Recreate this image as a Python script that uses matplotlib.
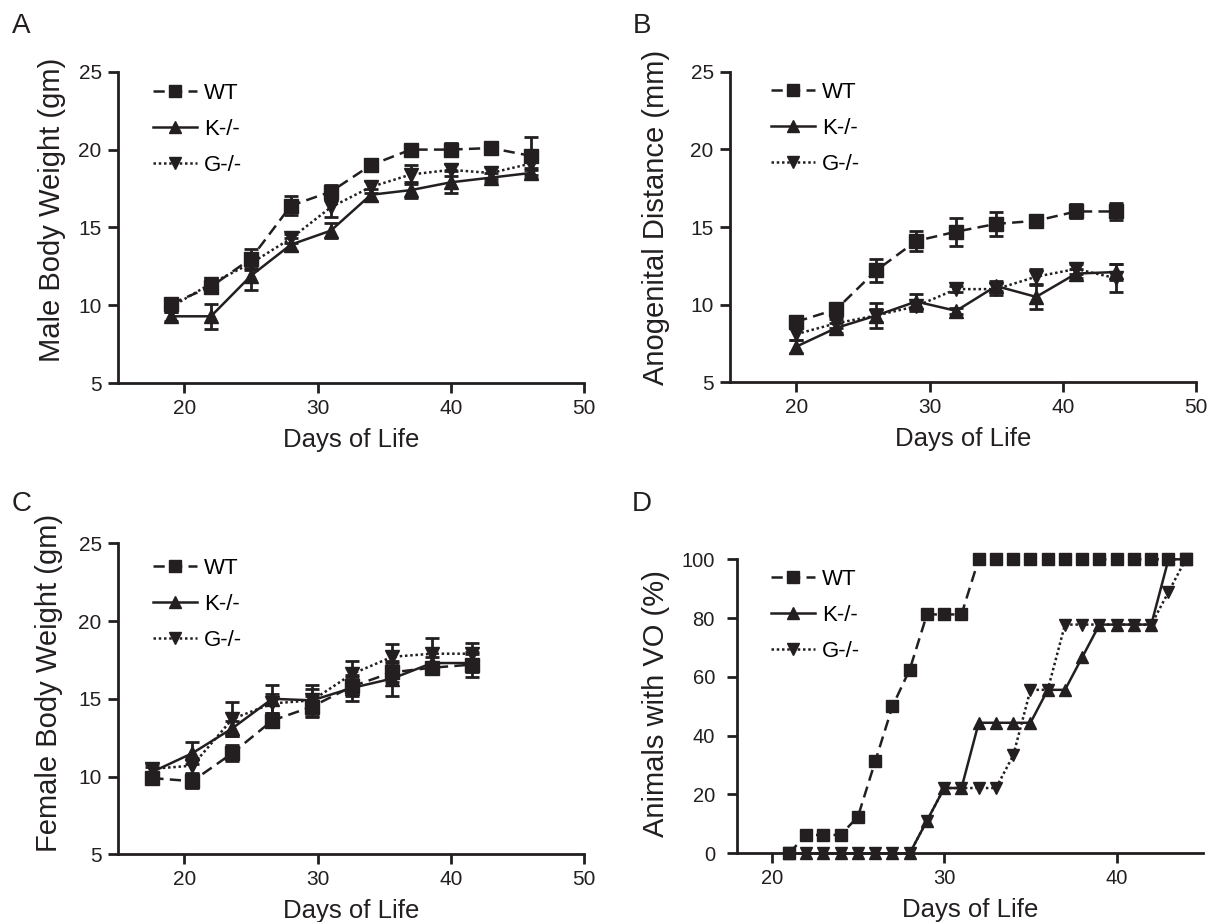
import numpy as np
import matplotlib
matplotlib.use("Agg")
import matplotlib.pyplot as plt

plt.rcParams['font.family'] = ['Liberation Sans', 'DejaVu Sans']

ink = '#231f20'
labels = ['WT', 'K-/-', 'G-/-']

# A - male body weight
days_a = [19, 22, 25, 28, 31, 34, 37, 40, 43, 46]
wt_a = [10.1, 11.2, 13.0, 16.4, 17.3, 19.0, 20.0, 20.0, 20.1, 19.6]
wt_a_err = [0.4, 0.4, 0.6, 0.6, 0.4, 0.3, 0.3, 0.4, 0.4, 1.2]
k_a = [9.3, 9.3, 11.9, 13.9, 14.8, 17.1, 17.4, 17.9, 18.2, 18.5]
k_a_err = [0.3, 0.8, 0.9, 0.4, 0.5, 0.4, 0.5, 0.7, 0.3, 0.3]
g_a = [9.9, 11.4, 12.7, 14.3, 16.3, 17.6, 18.4, 18.7, 18.5, 19.1]
g_a_err = [0.3, 0.3, 0.4, 0.3, 0.6, 0.4, 0.6, 0.4, 0.4, 0.4]

# B - anogenital distance
days_b = [20, 23, 26, 29, 32, 35, 38, 41, 44]
wt_b = [8.9, 9.7, 12.2, 14.1, 14.7, 15.2, 15.4, 16.0, 16.0]
wt_b_err = [0.3, 0.3, 0.75, 0.65, 0.9, 0.75, 0.2, 0.45, 0.55]
k_b = [7.3, 8.5, 9.3, 10.2, 9.6, 11.2, 10.5, 12.0, 12.1]
k_b_err = [0.4, 0.3, 0.4, 0.5, 0.2, 0.3, 0.75, 0.3, 0.5]
g_b = [8.1, 8.8, 9.3, 9.9, 11.0, 11.0, 11.8, 12.3, 11.7]
g_b_err = [0.4, 0.3, 0.8, 0.3, 0.2, 0.4, 0.5, 0.3, 0.9]

# C - female body weight
days_c = [17.6, 20.6, 23.6, 26.6, 29.6, 32.6, 35.6, 38.6, 41.6]
wt_c = [9.9, 9.7, 11.5, 13.6, 14.5, 15.8, 16.7, 17.0, 17.2]
wt_c_err = [0.3, 0.45, 0.5, 0.4, 0.7, 0.6, 0.6, 0.3, 0.8]
k_c = [10.3, 11.5, 13.1, 15.0, 14.9, 15.7, 16.3, 17.3, 17.3]
k_c_err = [0.3, 0.7, 0.5, 0.9, 0.7, 0.85, 1.1, 0.4, 0.6]
g_c = [10.5, 10.7, 13.7, 14.7, 14.9, 16.6, 17.7, 17.9, 17.9]
g_c_err = [0.3, 0.5, 1.1, 0.6, 1.0, 0.8, 0.85, 1.0, 0.7]

# D - vaginal opening
days_d = [21, 22, 23, 24, 25, 26, 27, 28, 29, 30, 31, 32,
          33, 34, 35, 36, 37, 38, 39, 40, 41, 42, 43, 44]
wt_d = [0, 6.25, 6.25, 6.25, 12.5, 31.25, 50, 62.5, 81.25, 81.25, 81.25, 100,
        100, 100, 100, 100, 100, 100, 100, 100, 100, 100, 100, 100]
k_d = [0, 0, 0, 0, 0, 0, 0, 0, 11.1, 22.2, 22.2, 44.4,
       44.4, 44.4, 44.4, 55.6, 55.6, 66.7, 77.8, 77.8, 77.8, 77.8, 100, 100]
g_d = [0, 0, 0, 0, 0, 0, 0, 0, 11.1, 22.2, 22.2, 22.2,
       22.2, 33.3, 55.6, 55.6, 77.8, 77.8, 77.8, 77.8, 77.8, 77.8, 88.9, 100]

styles = [dict(marker='s', ls=(0, (4.5, 2.5))),
          dict(marker='^', ls='-'),
          dict(marker='v', ls=(0, (1, 1.1)))]

W, H = 1211, 922
fig = plt.figure(figsize=(W / 100, H / 100), dpi=100)


def px_axes(left, top, right, bottom):
    return fig.add_axes([left / W, 1 - bottom / H, (right - left) / W, (bottom - top) / H])


def style_axes(ax, tsize=15, ypad=4.5):
    for s in ['top', 'right']:
        ax.spines[s].set_visible(False)
    for s in ['left', 'bottom']:
        ax.spines[s].set_linewidth(2.0)
        ax.spines[s].set_color(ink)
    ax.tick_params(width=2.0, length=7, labelsize=tsize, color=ink, labelcolor=ink)
    ax.tick_params(axis='x', pad=4.5)
    ax.tick_params(axis='y', pad=ypad)


def draw_series(ax, x, series, errs, ms, lw=1.8):
    for i, y in enumerate(series):
        ax.plot(x, y, color=ink, lw=lw, ms=ms, mfc=ink, mec=ink,
                label=labels[i], clip_on=False, zorder=3, **styles[i])
        if errs is not None:
            ax.errorbar(x, y, yerr=errs[i], fmt='none', ecolor=ink,
                        elinewidth=2, capsize=5, capthick=2, zorder=2, clip_on=False)


def add_legend(ax, bx, by, mscale=0.8):
    ax.legend(loc='upper left', bbox_to_anchor=(bx / W, 1 - by / H),
              bbox_transform=fig.transFigure, frameon=False, fontsize=16,
              handlelength=2.0, handletextpad=0.3, labelspacing=0.68,
              markerscale=mscale, borderpad=0, borderaxespad=0, numpoints=1)


def set_labels(ax, ylabel, xc, yc):
    ax.set_xlabel('Days of Life', fontsize=18.5, labelpad=7, color=ink)
    ax.set_ylabel(ylabel, fontsize=21, color=ink)
    ax.yaxis.set_label_coords(xc, yc)


# A
axA = px_axes(117.7, 71.7, 584, 383.3)
draw_series(axA, days_a, [wt_a, k_a, g_a], [wt_a_err, k_a_err, g_a_err], ms=10.5)
axA.set_xlim(15, 50)
axA.set_ylim(5, 25)
axA.set_xticks([20, 30, 40, 50])
axA.set_yticks([5, 10, 15, 20, 25])
style_axes(axA)
set_labels(axA, 'Male Body Weight (gm)', -0.1115, 0.556)
add_legend(axA, 153, 83)

# B
axB = px_axes(729.7, 71.7, 1196, 382.3)
draw_series(axB, days_b, [wt_b, k_b, g_b], [wt_b_err, k_b_err, g_b_err], ms=10.5)
axB.set_xlim(15, 50)
axB.set_ylim(5, 25)
axB.set_xticks([20, 30, 40, 50])
axB.set_yticks([5, 10, 15, 20, 25])
style_axes(axB)
set_labels(axB, 'Anogenital Distance (mm)', -0.128, 0.53)
add_legend(axB, 771, 82)

# C
axC = px_axes(117.7, 543.3, 584, 854.3)
draw_series(axC, days_c, [wt_c, k_c, g_c], [wt_c_err, k_c_err, g_c_err], ms=10.5)
axC.set_xlim(15, 50)
axC.set_ylim(5, 25)
axC.set_xticks([20, 30, 40, 50])
axC.set_yticks([5, 10, 15, 20, 25])
style_axes(axC)
set_labels(axC, 'Female Body Weight (gm)', -0.117, 0.55)
add_legend(axC, 153, 558)

# D
axD = px_axes(737.2, 559.3, 1203, 853.3)
draw_series(axD, days_d, [wt_d, k_d, g_d], None, ms=8.5)
axD.set_xlim(18, 45)
axD.set_ylim(0, 100)
axD.set_xticks([20, 30, 40])
axD.set_yticks([0, 20, 40, 60, 80, 100])
style_axes(axD, tsize=14.5, ypad=9)
set_labels(axD, 'Animals with VO (%)', -0.144, 0.51)
add_legend(axD, 771, 569, mscale=1.0)

for letter, x, y in [('A', 11.5, 33), ('B', 633, 33), ('C', 11.5, 511), ('D', 632, 511)]:
    fig.text(x / W, 1 - y / H, letter, fontsize=20, ha='left', va='baseline', color=ink)

fig.savefig('out.png', dpi=100)
